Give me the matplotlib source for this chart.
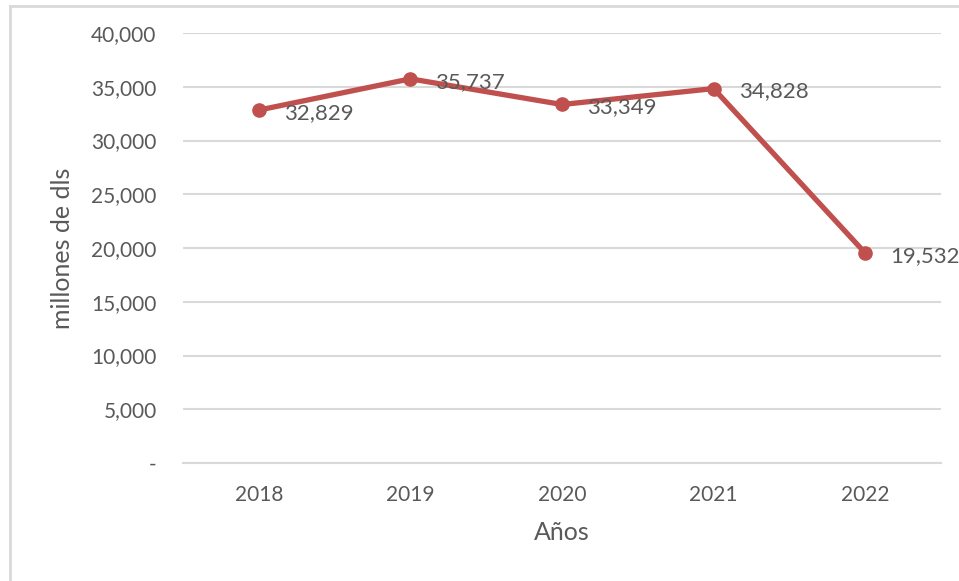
import matplotlib.pyplot as plt
from matplotlib.lines import Line2D

years = ['2018', '2019', '2020', '2021', '2022']
values = [32829, 35737, 33349, 34828, 19532]
yticks = [0, 5000, 10000, 15000, 20000, 25000, 30000, 35000, 40000]

text_color = '#595959'
line_color = '#C0504D'
grid_color = '#D9D9D9'

plt.rcParams['font.family'] = ['Lato', 'DejaVu Sans']

W, H = 959, 581
fig = plt.figure(figsize=(W / 100, H / 100), dpi=100)
ax = fig.add_axes([183 / W, (H - 463) / H, (941 - 183) / W, (463 - 33) / H])

x = list(range(len(years)))
ax.plot(x, values, color=line_color, linewidth=3.8, marker='o', markersize=9.5,
        solid_capstyle='round', zorder=3, clip_on=False)

for xi, v in zip(x, values):
    ax.annotate(f'{v:,}', (xi, v), xytext=(18, -2), textcoords='offset points',
                ha='left', va='center', fontsize=16, color=text_color,
                annotation_clip=False)

ax.set_xlim(-0.5, len(years) - 0.5)
ax.set_ylim(0, 40000)
ax.set_xticks(x)
ax.set_xticklabels(years)
ax.set_yticks(yticks)
ax.set_yticklabels(['-' if t == 0 else f'{t:,}' for t in yticks])
ax.tick_params(axis='both', length=0, labelsize=15, colors=text_color)
ax.tick_params(axis='y', pad=19)
ax.tick_params(axis='x', pad=16)
ax.grid(axis='y', color=grid_color, linewidth=1.5)
ax.set_axisbelow(True)
for side in ['top', 'right', 'left']:
    ax.spines[side].set_visible(False)
ax.spines['bottom'].set_color(grid_color)
ax.spines['bottom'].set_linewidth(1.5)

ax.set_ylabel('millones de dls', fontsize=18, color=text_color)
ax.set_xlabel('Años', fontsize=18, color=text_color)
ax.yaxis.set_label_coords((62 - 183) / 758, (463 - 248) / 430)
ax.xaxis.set_label_coords((562 - 183) / 758, -(533 - 463) / 430)
ax.yaxis.label.set_va('center')
ax.xaxis.label.set_va('center')

# outer chart border (cropped on right/bottom)
fig.add_artist(Line2D([9.5 / W, 9.5 / W], [0, (H - 5.5) / H], color=grid_color,
                      linewidth=2, transform=fig.transFigure))
fig.add_artist(Line2D([9.5 / W, 1], [(H - 5.5) / H, (H - 5.5) / H], color=grid_color,
                      linewidth=2, transform=fig.transFigure))

fig.savefig('out.png', dpi=100)
